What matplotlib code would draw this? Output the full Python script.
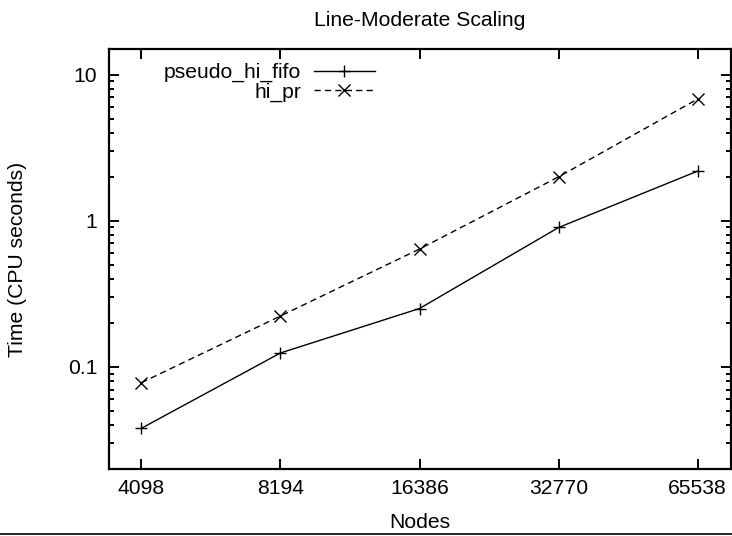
import matplotlib
matplotlib.use('Agg')
import matplotlib.pyplot as plt
from matplotlib.lines import Line2D
from matplotlib.ticker import FixedLocator, NullLocator, LogLocator, NullFormatter

plt.rcParams['font.family'] = ['Liberation Sans', 'DejaVu Sans']
plt.rcParams['font.size'] = 15.2

# Problem sizes and CPU times for the two max-flow codes
nodes = [4098, 8194, 16386, 32770, 65538]
pseudo_hi_fifo = [0.038, 0.1245, 0.251, 0.90, 2.19]
hi_pr = [0.078, 0.223, 0.641, 2.0, 6.82]
ytick_vals = [0.1, 1, 10]
ytick_labels = ['0.1', '1', '10']

fig = plt.figure(figsize=(7.32, 5.36), dpi=100)
W, H = 732, 536
ax = fig.add_axes([109 / W, (H - 469) / H, 622 / W, 420 / H])

ax.plot(nodes, pseudo_hi_fifo, color='black', lw=1.0, marker='+',
        markersize=9, markeredgewidth=1.0, label='pseudo_hi_fifo')
ax.plot(nodes, hi_pr, color='black', lw=1.0, ls=(0, (4.5, 3)), marker='x',
        markersize=8, markeredgewidth=1.0, label='hi_pr')

ax.set_xscale('log', base=2)
ax.set_yscale('log')
ax.set_xlim(3487, 77370)
ax.set_ylim(0.02, 15)

ax.xaxis.set_major_locator(FixedLocator(nodes))
ax.set_xticklabels([str(n) for n in nodes])
ax.xaxis.set_minor_locator(NullLocator())
ax.yaxis.set_major_locator(FixedLocator(ytick_vals))
ax.set_yticklabels(ytick_labels)
ax.yaxis.set_minor_locator(LogLocator(base=10, subs=range(2, 10)))
ax.yaxis.set_minor_formatter(NullFormatter())

ax.tick_params(which='both', direction='in', top=True, right=True, width=1.4)
ax.tick_params(which='major', length=7)
ax.tick_params(which='minor', length=3.6)
ax.tick_params(axis='y', pad=8.6)
ax.tick_params(axis='x', pad=7)
for s in ax.spines.values():
    s.set_linewidth(1.6)

fig.text(420 / W, 1 - 20 / H, 'Line-Moderate Scaling', ha='center', va='center')
fig.text(420 / W, 1 - 522 / H, 'Nodes', ha='center', va='center')
fig.text(18 / W, 1 - 259 / H, 'Time (CPU seconds)', ha='center', va='center',
         rotation=90)

leg = ax.legend(loc='upper right', bbox_to_anchor=((375 - 109) / 622, (469 - 63) / 420),
                markerfirst=False, frameon=False, borderpad=0, borderaxespad=0,
                handlelength=2.9, handletextpad=0.6, labelspacing=0.0)

# thin rule along the bottom edge
fig.add_artist(Line2D([0, 1], [2 / H, 2 / H], transform=fig.transFigure,
                      color='black', lw=1.2))

fig.savefig('out.png', dpi=100)
